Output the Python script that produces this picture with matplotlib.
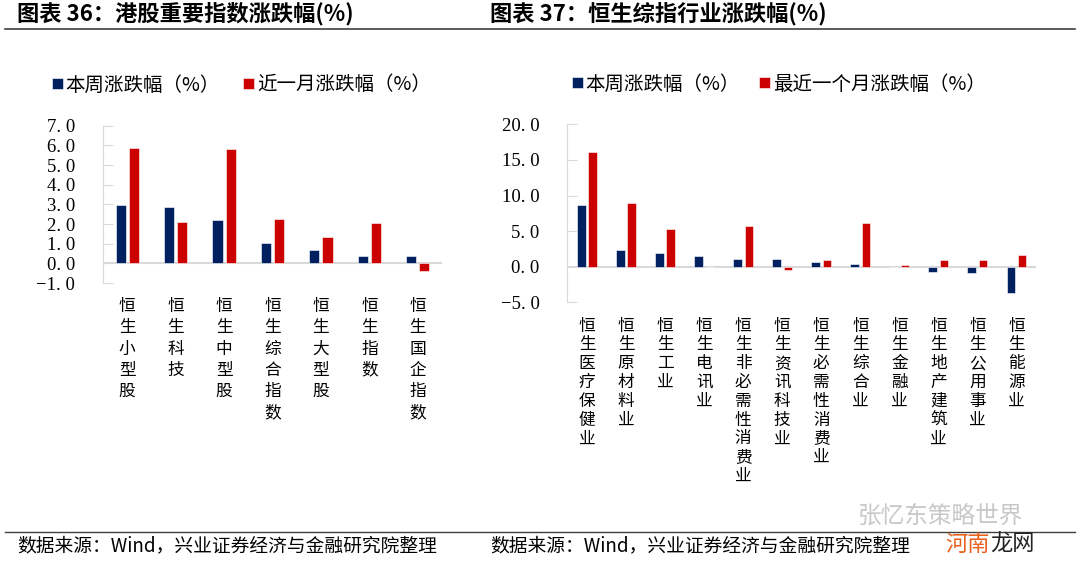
import matplotlib
matplotlib.use('Agg')
import matplotlib.pyplot as plt
from matplotlib.lines import Line2D

plt.rcParams['font.family'] = ['Noto Sans CJK SC', 'DejaVu Sans']

# 图表36 港股重要指数
idx_names = ['恒生小型股', '恒生科技', '恒生中型股', '恒生综合指数', '恒生大型股', '恒生指数', '恒生国企指数']
idx_week = [2.95, 2.85, 2.2, 1.05, 0.7, 0.38, 0.38]
idx_month = [5.85, 2.1, 5.8, 2.28, 1.35, 2.03, -0.4]
idx_yticks = [-1, 0, 1, 2, 3, 4, 5, 6, 7]

# 图表37 恒生综指行业
ind_names = ['恒生医疗保健业', '恒生原材料业', '恒生工业', '恒生电讯业', '恒生非必需性消费业',
             '恒生资讯科技业', '恒生必需性消费业', '恒生综合业', '恒生金融业', '恒生地产建筑业',
             '恒生公用事业', '恒生能源业']
ind_week = [8.6, 2.35, 1.95, 1.45, 1.15, 1.1, 0.6, 0.4, 0.0, -0.8, -0.85, -3.7]
ind_month = [16.1, 9.0, 5.25, 0.0, 5.65, -0.45, 0.9, 6.1, 0.25, 1.0, 1.0, 1.65]
ind_yticks = [-5, 0, 5, 10, 15, 20]

BLUE = '#002060'
RED = '#CC0000'
GRID = '#D9D9D9'

fig = plt.figure(figsize=(10.8, 5.63), dpi=100)


def fy(py):
    # pixel row -> figure fraction
    return 1 - py / 563


def draw(ax, names, week, month, yticks, lab1, lab2, width, off, lbl_size, lbl_space,
         leg_x, leg_y, colspace):
    x = list(range(len(names)))
    b1 = ax.bar([i - off for i in x], week, width, color=BLUE, edgecolor='white', linewidth=0.4, label=lab1)
    b2 = ax.bar([i + off for i in x], month, width, color=RED, edgecolor='white', linewidth=0.4, label=lab2)
    ax.axhline(0, color=GRID, lw=1.5, zorder=0)
    ax.set_xlim(-0.5, len(names) - 0.5)
    ax.set_ylim(yticks[0], yticks[-1])
    ax.set_yticks(yticks)
    ax.set_yticklabels([('%.1f' % v).replace('.', '. ').replace('-', '\u2212') for v in yticks],
                       fontfamily='Liberation Serif', fontsize=13.5)
    ax.tick_params(axis='y', direction='in', length=7, color=GRID, pad=20)
    ax.set_xticks(x)
    ax.set_xticklabels(['\n'.join(n) for n in names], fontsize=lbl_size, va='top')
    for t in ax.get_xticklabels():
        t.set_linespacing(lbl_space)
    ax.tick_params(axis='x', length=0, pad=11)
    for s in ['top', 'right', 'bottom']:
        ax.spines[s].set_visible(False)
    ax.spines['left'].set_color(GRID)
    ax.legend(handles=[b1, b2], ncol=2, loc='center left', bbox_to_anchor=(leg_x, leg_y),
              bbox_transform=fig.transFigure, frameon=False, fontsize=14,
              handlelength=0.55, handleheight=0.55, handletextpad=0.15,
              columnspacing=colspace, borderpad=0, borderaxespad=0)


ax1 = fig.add_axes([103 / 1080, fy(283), (442 - 103) / 1080, fy(125.7) - fy(283)])
draw(ax1, idx_names, idx_week, idx_month, idx_yticks, '本周涨跌幅（%）', '近一月涨跌幅（%）',
     0.21, 0.135, 12, 1.32, 52 / 1080, fy(85), 1.2)

ax2 = fig.add_axes([567.5 / 1080, fy(302.3), (1036 - 567.5) / 1080, fy(124.3) - fy(302.3)])
draw(ax2, ind_names, ind_week, ind_month, ind_yticks, '本周涨跌幅（%）', '最近一个月涨跌幅（%）',
     0.22, 0.145, 12, 1.14, 572 / 1080, fy(84), 1.0)

# titles and rules
fig.text(17 / 1080, fy(14), '图表 36：港股重要指数涨跌幅(%)', fontsize=16, fontweight='bold', va='center')
fig.text(490 / 1080, fy(14), '图表 37：恒生综指行业涨跌幅(%)', fontsize=16, fontweight='bold', va='center')
fig.add_artist(Line2D([5 / 1080, 1075 / 1080], [fy(29), fy(29)], color='#404040', lw=1.2))
fig.add_artist(Line2D([5 / 1080, 1075 / 1080], [fy(532), fy(532)], color='#404040', lw=1.0))

src = '数据来源：Wind，兴业证券经济与金融研究院整理'
fig.text(17 / 1080, fy(546), src, fontsize=13.5, va='center')
fig.text(490 / 1080, fy(546), src, fontsize=13.5, va='center')

# watermark
fig.text(858 / 1080, fy(516), '张忆东策略世界', fontsize=17, color='#C8C8C8', va='center')
fig.text(945 / 1080, fy(544), '河南', fontsize=16, color='#E8601C', va='center')
fig.text(990 / 1080, fy(544), '龙网', fontsize=16, color='#222222', va='center')

fig.savefig('out.png', dpi=100)
